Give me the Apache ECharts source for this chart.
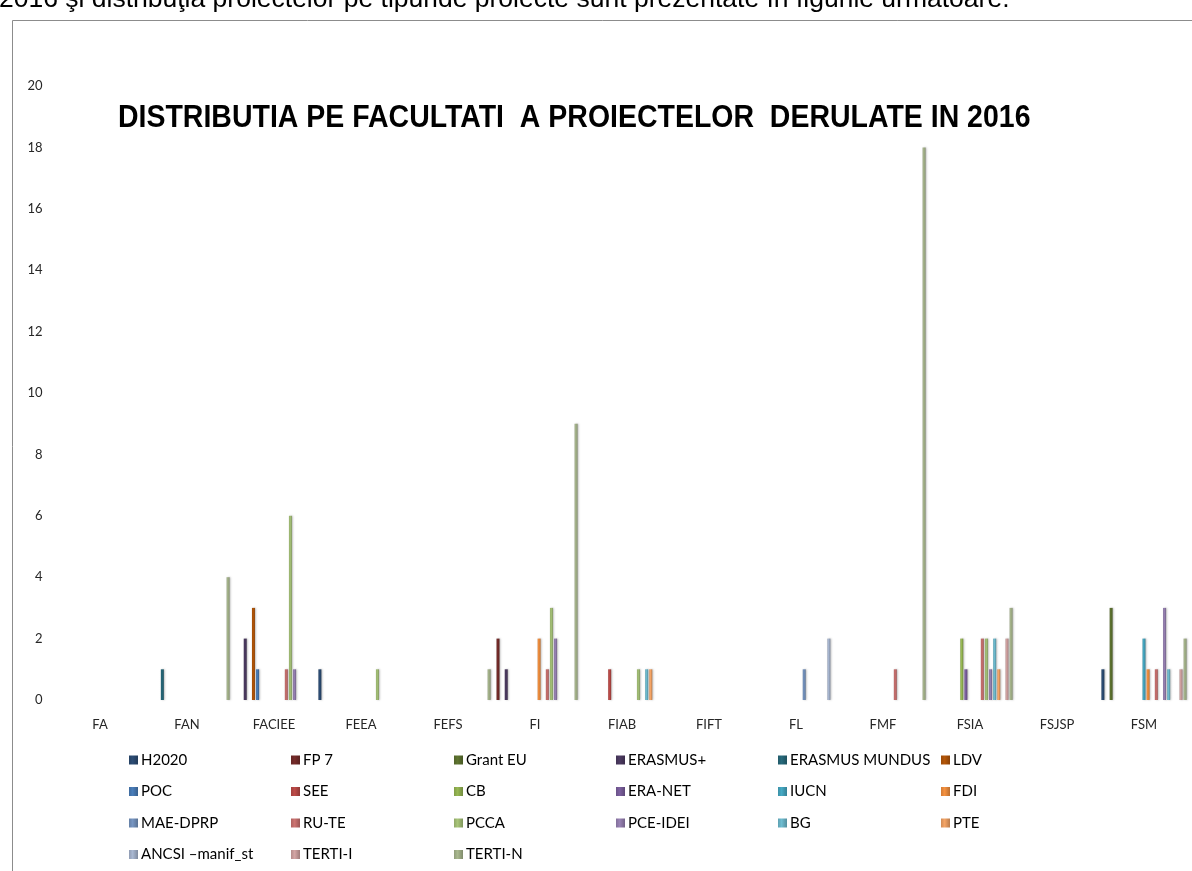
<!DOCTYPE html>
<html><head><meta charset="utf-8">
<script src="https://cdn.jsdelivr.net/npm/echarts@6/dist/echarts.min.js"></script>
<style>html,body{margin:0;padding:0;background:#fff}#c{width:1192px;height:871px}</style>
</head><body><div id="c"></div>
<script>
// ---- data ----
const categories = ['FA','FAN','FACIEE','FEEA','FEFS','FI','FIAB','FIFT','FL','FMF','FSIA','FSJSP','FSM'];
const seriesNames = ['H2020','FP 7','Grant EU','ERASMUS+','ERASMUS MUNDUS','LDV',
  'POC','SEE','CB','ERA-NET','IUCN','FDI',
  'MAE-DPRP','RU-TE','PCCA','PCE-IDEI','BG','PTE',
  'ANCSI \u2013manif_st','TERTI-I','TERTI-N'];
//                FA FAN FAC FEEA FEFS FI FIAB FIFT FL FMF FSIA FSJSP FSM
const H2020     = [0, 0,  0,  1,   0,  0, 0,   0,  0, 0,  0,   0,   1];
const FP7       = [0, 0,  0,  0,   0,  2, 0,   0,  0, 0,  0,   0,   0];
const GRANT_EU  = [0, 0,  0,  0,   0,  0, 0,   0,  0, 0,  0,   0,   3];
const ERASMUSP  = [0, 0,  2,  0,   0,  1, 0,   0,  0, 0,  0,   0,   0];
const ERASMUS_M = [0, 1,  0,  0,   0,  0, 0,   0,  0, 0,  0,   0,   0];
const LDV       = [0, 0,  3,  0,   0,  0, 0,   0,  0, 0,  0,   0,   0];
const POC       = [0, 0,  1,  0,   0,  0, 0,   0,  0, 0,  0,   0,   0];
const SEE       = [0, 0,  0,  0,   0,  0, 1,   0,  0, 0,  0,   0,   0];
const CB        = [0, 0,  0,  0,   0,  0, 0,   0,  0, 0,  2,   0,   0];
const ERA_NET   = [0, 0,  0,  0,   0,  0, 0,   0,  0, 0,  1,   0,   0];
const IUCN      = [0, 0,  0,  0,   0,  0, 0,   0,  0, 0,  0,   0,   2];
const FDI       = [0, 0,  0,  0,   0,  2, 0,   0,  0, 0,  0,   0,   1];
const MAE_DPRP  = [0, 0,  0,  0,   0,  0, 0,   0,  1, 0,  0,   0,   0];
const RU_TE     = [0, 0,  1,  0,   0,  1, 0,   0,  0, 1,  2,   0,   1];
const PCCA      = [0, 0,  6,  1,   0,  3, 1,   0,  0, 0,  2,   0,   0];
const PCE_IDEI  = [0, 0,  1,  0,   0,  2, 0,   0,  0, 0,  1,   0,   3];
const BG        = [0, 0,  0,  0,   0,  0, 1,   0,  0, 0,  2,   0,   1];
const PTE       = [0, 0,  0,  0,   0,  0, 1,   0,  0, 0,  1,   0,   0];
const ANCSI     = [0, 0,  0,  0,   0,  0, 0,   0,  2, 0,  0,   0,   0];
const TERTI_I   = [0, 0,  0,  0,   0,  0, 0,   0,  0, 0,  2,   0,   1];
const TERTI_N   = [0, 4,  0,  0,   1,  9, 0,   0,  0, 18, 3,   0,   2];
const seriesValues = [H2020,FP7,GRANT_EU,ERASMUSP,ERASMUS_M,LDV,POC,SEE,CB,ERA_NET,IUCN,FDI,
  MAE_DPRP,RU_TE,PCCA,PCE_IDEI,BG,PTE,ANCSI,TERTI_I,TERTI_N];
const yMin = 0, yMax = 20, yInterval = 2;
const chartTitle = 'DISTRIBUTIA PE FACULTATI  A PROIECTELOR  DERULATE IN 2016';
const topLine = '2016 \u015fi distribu\u0163ia proiectelor pe tipuride proiecte sunt prezentate \u00een figurile urm\u0103toare.';

// ---- styles ----
const colors = ['#2C4D75','#772C2A','#5F7530','#4D3B62','#276A7C','#B65708',
  '#4A7EBB','#BE4B48','#98B954','#7D60A0','#46AAC5','#F69240',
  '#7796C3','#CD7371','#A9C67A','#9983B5','#6FBDD1','#F5A566',
  '#A9B8D2','#D4A5A4','#AAB98F'];
function shade(hex, f){
  const n=parseInt(hex.slice(1),16);let r=n>>16,g=(n>>8)&255,b=n&255;
  r=Math.round(r*f);g=Math.round(g*f);b=Math.round(b*f);
  return 'rgb('+Math.min(255,r)+','+Math.min(255,g)+','+Math.min(255,b)+')';
}
const font = 'Lato, "Open Sans", sans-serif';

const series = seriesNames.map((name,i)=>({
  name, type:'bar', barWidth:3, barGap:'37%',
  data: seriesValues[i].map(v=> v===0 ? '-' : v),
  itemStyle:{
    color:{type:'linear',x:0,y:0,x2:1,y2:0,colorStops:[
      {offset:0,color:shade(colors[i],0.85)},{offset:0.4,color:colors[i]},{offset:1,color:shade(colors[i],0.75)}]},
    shadowColor:'rgba(0,0,0,0.25)', shadowBlur:2, shadowOffsetX:1
  }
}));

const colX = [129, 291, 454, 616, 778, 941];
const legends = colX.map((x,k)=>{
  const data=[]; for(let r=0;r<4;r++){const idx=k+r*6; if(idx<seriesNames.length) data.push(seriesNames[idx]);}
  return {orient:'vertical', left:x, top:752, padding:0, itemWidth:9, itemHeight:9, itemGap:15.5,
    icon:'rect', selectedMode:false, data,
    textStyle:{fontFamily:font, fontSize:15, color:'#000', lineHeight:16, padding:[0,0,0,-2]}};
});

const chart = echarts.init(document.getElementById('c'), null, {renderer:'canvas'});
chart.setOption({
  animation:false,
  backgroundColor:'#fff',
  color: colors,
  grid:{left:56.5, right:4.5, top:86, bottom:171, containLabel:false},
  xAxis:{type:'category', data:categories,
    axisLine:{show:false}, axisTick:{show:false},
    axisLabel:{fontFamily:font, fontSize:13, color:'#262626', margin:18}},
  yAxis:{type:'value', min:yMin, max:yMax, interval:yInterval,
    axisLine:{show:false}, axisTick:{show:false}, splitLine:{show:false},
    axisLabel:{fontFamily:font, fontSize:13, color:'#262626', margin:14}},
  legend: legends,
  series,
  graphic:[
    {type:'rect', silent:true, z:-10, shape:{x:12.5,y:20.5,width:1400,height:1000},
      style:{fill:'none', stroke:'#8c8c8c', lineWidth:1}},
    {type:'text', silent:true, x:-1, y:-14, style:{text:topLine, font:'26.5px "Liberation Sans", Arial, sans-serif',
      fill:'#000', verticalAlign:'top', align:'left'}},
    {type:'text', silent:true, x:118, y:102, scaleX:0.89, style:{text:chartTitle,
      font:'bold 32px "Liberation Sans", Arial, sans-serif', fill:'#000', verticalAlign:'top', align:'left'}}
  ]
});
</script></body></html>
